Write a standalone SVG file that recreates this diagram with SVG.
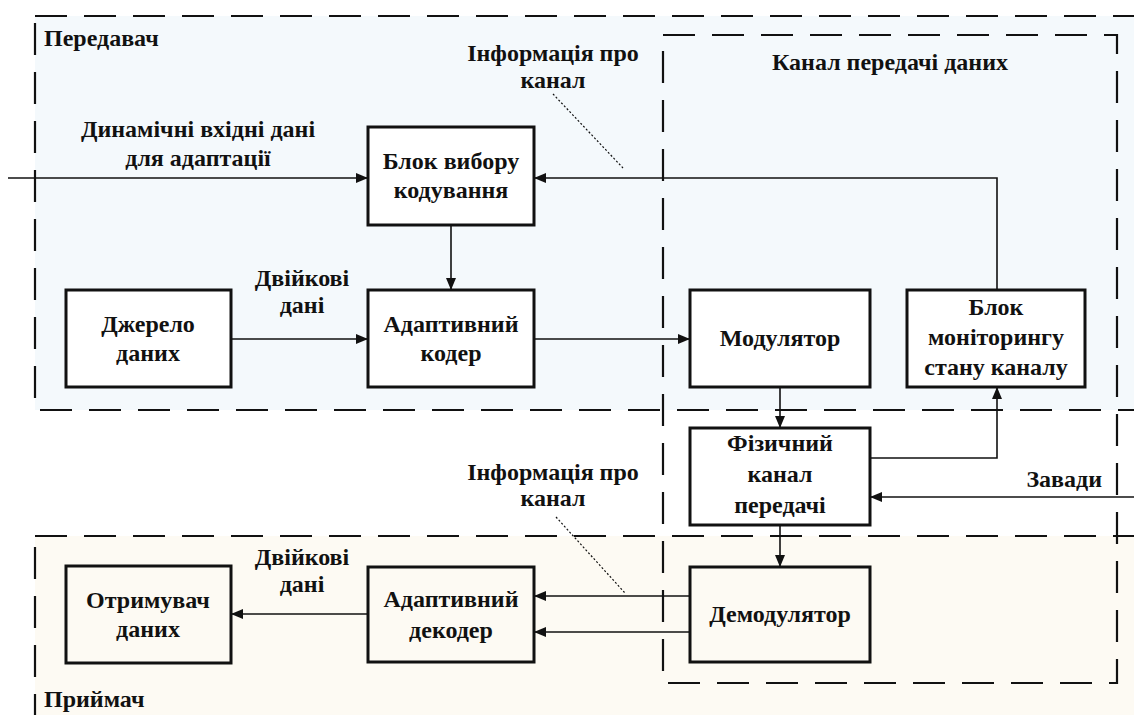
<svg xmlns="http://www.w3.org/2000/svg" width="1134" height="715" viewBox="0 0 1134 715">
<defs>
<marker id="ah" viewBox="0 0 12 10" refX="12" refY="5" markerWidth="12" markerHeight="10" markerUnits="userSpaceOnUse" orient="auto"><path d="M0,0 L12,5 L0,10 z" fill="#111"/></marker>
<style>
.t{font-family:"Times New Roman","Liberation Serif","Noto Serif","DejaVu Serif",serif;font-weight:bold;font-size:24px;fill:#111;text-anchor:middle}
.l{text-anchor:start}
.r{text-anchor:end}
.box{fill:#fff;stroke:#111;stroke-width:3}
.boxr{fill:#fdfaf3;stroke:#111;stroke-width:3}
.c{fill:none;stroke:#111;stroke-width:1.6}
.d{stroke:#111;stroke-width:2.2;stroke-dasharray:32 17}
.dot{fill:none;stroke:#111;stroke-width:1.2;stroke-dasharray:2 2}
</style>
</defs>
<rect width="1134" height="715" fill="#fff"/>
<g id="regions">
<rect id="transmitter" class="d" x="35" y="16" width="1120" height="394" fill="#f4f9fc"/>
<rect id="receiver" class="d" x="35" y="536" width="1120" height="200" fill="#fdfaf3"/>
<rect id="channel" class="d" x="663" y="35" width="454" height="648" fill="none"/>
<text class="t l" x="44" y="46">Передавач</text>
<text class="t l" x="44" y="707">Приймач</text>
<text class="t" x="890" y="70">Канал передачі даних</text>
</g>
<g id="connectors">
<path class="c" d="M8,178 H368" marker-end="url(#ah)"/>
<path class="c" d="M997,290 V178 H534" marker-end="url(#ah)"/>
<path class="c" d="M451,225 V290" marker-end="url(#ah)"/>
<path class="c" d="M231,339 H368" marker-end="url(#ah)"/>
<path class="c" d="M534,339 H690" marker-end="url(#ah)"/>
<path class="c" d="M780,387 V428" marker-end="url(#ah)"/>
<path class="c" d="M870,458 H997 V387" marker-end="url(#ah)"/>
<path class="c" d="M1134,497 H870" marker-end="url(#ah)"/>
<path class="c" d="M780,525 V567" marker-end="url(#ah)"/>
<path class="c" d="M690,596 H534" marker-end="url(#ah)"/>
<path class="c" d="M690,632 H534" marker-end="url(#ah)"/>
<path class="c" d="M368,614 H231" marker-end="url(#ah)"/>
<path class="dot" d="M553,94 L623,168"/>
<path class="dot" d="M556,517 L625,593"/>
<text class="t" x="198" y="137">Динамічні вхідні дані</text>
<text class="t" x="198" y="166">для адаптації</text>
<text class="t" x="553" y="61">Інформація про</text>
<text class="t" x="553" y="88">канал</text>
<text class="t" x="302" y="286">Двійкові</text>
<text class="t" x="302" y="313">дані</text>
<text class="t r" x="1102" y="487">Завади</text>
<text class="t" x="553" y="480">Інформація про</text>
<text class="t" x="553" y="506">канал</text>
<text class="t" x="302" y="565">Двійкові</text>
<text class="t" x="302" y="592">дані</text>
</g>
<g id="coding_select">
<rect class="box" x="368" y="127" width="166" height="98"/>
<text class="t" x="451" y="169">Блок вибору</text>
<text class="t" x="451" y="198">кодування</text>
</g>
<g id="data_source">
<rect class="box" x="66" y="290" width="165" height="97"/>
<text class="t" x="148" y="332">Джерело</text>
<text class="t" x="148" y="361">даних</text>
</g>
<g id="adaptive_coder">
<rect class="box" x="368" y="290" width="166" height="97"/>
<text class="t" x="451" y="332">Адаптивний</text>
<text class="t" x="451" y="361">кодер</text>
</g>
<g id="modulator">
<rect class="box" x="690" y="290" width="180" height="97"/>
<text class="t" x="780" y="346">Модулятор</text>
</g>
<g id="monitoring">
<rect class="box" x="907" y="290" width="178" height="97"/>
<text class="t" x="996" y="315">Блок</text>
<text class="t" x="996" y="345">моніторингу</text>
<text class="t" x="996" y="375">стану каналу</text>
</g>
<g id="physical_channel">
<rect class="box" x="690" y="428" width="180" height="97"/>
<text class="t" x="780" y="451">Фізичний</text>
<text class="t" x="780" y="482">канал</text>
<text class="t" x="780" y="513">передачі</text>
</g>
<g id="demodulator">
<rect class="boxr" x="690" y="567" width="180" height="95"/>
<text class="t" x="780" y="622">Демодулятор</text>
</g>
<g id="adaptive_decoder">
<rect class="boxr" x="368" y="567" width="166" height="95"/>
<text class="t" x="451" y="607">Адаптивний</text>
<text class="t" x="451" y="638">декодер</text>
</g>
<g id="receiver_node">
<rect class="boxr" x="66" y="566" width="165" height="97"/>
<text class="t" x="148" y="608">Отримувач</text>
<text class="t" x="148" y="637">даних</text>
</g>
</svg>
